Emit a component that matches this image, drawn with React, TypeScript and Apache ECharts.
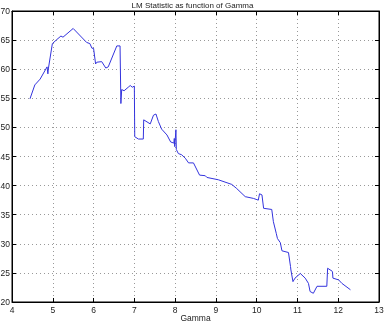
import React, { useEffect, useRef } from "react";
import * as echarts from "echarts";

const gamma = [4.44, 4.56, 4.69, 4.86, 4.88, 4.89, 4.99, 5.10, 5.20, 5.25, 5.50, 5.83, 5.91, 5.96, 6.0, 6.05, 6.08, 6.20, 6.30, 6.36, 6.57, 6.65, 6.67, 6.69, 6.75, 6.85, 6.90, 6.95, 7.0, 7.01, 7.10, 7.22, 7.23, 7.39, 7.47, 7.53, 7.59, 7.67, 7.80, 7.89, 7.97, 7.98, 7.99, 8.02, 8.03, 8.08, 8.16, 8.25, 8.33, 8.45, 8.60, 8.74, 8.78, 9.06, 9.39, 9.51, 9.72, 9.92, 10.04, 10.07, 10.13, 10.17, 10.37, 10.41, 10.48, 10.51, 10.58, 10.62, 10.78, 10.83, 10.84, 10.89, 10.94, 11.07, 11.19, 11.27, 11.31, 11.39, 11.48, 11.72, 11.74, 11.85, 11.86, 11.87, 12.01, 12.09, 12.30];
const lm = [54.9, 57.3, 58.3, 60.4, 59.2, 60.0, 64.4, 65.1, 65.7, 65.5, 67.0, 64.6, 64.4, 63.6, 63.6, 60.9, 61.2, 61.3, 60.2, 60.4, 64.0, 64.0, 54.1, 56.5, 56.3, 56.9, 57.2, 56.9, 57.1, 48.4, 48.0, 48.0, 51.3, 50.6, 52.1, 52.3, 51.0, 49.7, 48.7, 47.5, 47.3, 48.1, 46.7, 49.6, 46.2, 45.5, 45.3, 44.7, 43.9, 43.9, 41.8, 41.7, 41.4, 41.0, 40.2, 39.5, 38.1, 37.8, 37.5, 38.6, 38.4, 36.1, 35.9, 33.8, 31.8, 30.9, 30.2, 28.8, 28.5, 26.1, 25.5, 23.5, 24.1, 24.9, 24.1, 23.2, 21.8, 21.5, 22.7, 22.7, 25.8, 25.3, 25.2, 24.1, 23.8, 23.2, 22.1];

const title = "LM Statistic as function of Gamma";
const xName = "Gamma";

export default function App() {
  const ref = useRef<HTMLDivElement>(null);
  useEffect(() => {
    const chart = echarts.init(ref.current!, null, { renderer: "svg" });
    const font = "Liberation Sans, Arial, sans-serif";
    const gridLine = { show: true, lineStyle: { color: "#999", type: [1, 3], width: 1 } };
    chart.setOption({
      animation: false,
      textStyle: { fontFamily: font },
      title: {
        text: title,
        left: "center",
        top: -4,
        textStyle: { fontSize: 8, fontWeight: "normal", color: "#222", fontFamily: font },
      },
      grid: {
        left: 12, right: 6, top: 11, bottom: 21,
        containLabel: false,
        outerBoundsMode: "none",
        show: true, borderColor: "#000", borderWidth: 1,
      },
      xAxis: [
        {
          type: "value",
          min: 4,
          max: 13,
          interval: 1,
          name: xName,
          nameLocation: "middle",
          nameGap: 11,
          nameMoveOverlap: false,
          nameTextStyle: { fontSize: 8.5, color: "#222", fontFamily: font, verticalAlign: "top" },
          axisLine: { show: true, lineStyle: { color: "#000" } },
          axisTick: { show: true, inside: true, length: 4, lineStyle: { color: "#000" } },
          axisLabel: { fontSize: 8.5, color: "#222", margin: 3, fontFamily: font },
          splitLine: gridLine,
        },
        {
          type: "value",
          position: "top",
          min: 4,
          max: 13,
          interval: 1,
          axisLine: { show: true, lineStyle: { color: "#000" } },
          axisTick: { show: true, inside: true, length: 4, lineStyle: { color: "#000" } },
          axisLabel: { show: false },
          splitLine: { show: false },
        },
      ],
      yAxis: [
        {
          type: "value",
          min: 20,
          max: 70,
          interval: 5,
          axisLine: { show: true, lineStyle: { color: "#000" } },
          axisTick: { show: true, inside: true, length: 4, lineStyle: { color: "#000" } },
          axisLabel: { fontSize: 8.5, color: "#222", margin: 2, fontFamily: font },
          splitLine: gridLine,
        },
        {
          type: "value",
          position: "right",
          min: 20,
          max: 70,
          interval: 5,
          axisLine: { show: true, lineStyle: { color: "#000" } },
          axisTick: { show: true, inside: true, length: 4, lineStyle: { color: "#000" } },
          axisLabel: { show: false },
          splitLine: { show: false },
        },
      ],
      series: [
        {
          type: "line",
          data: gamma.map((g, i) => [g, lm[i]]),
          showSymbol: false,
          symbol: "none",
          lineStyle: { color: "#3333dd", width: 1 },
        },
      ],
    });
    return () => chart.dispose();
  }, []);
  return <div ref={ref} style={{ position: "fixed", left: 0, top: 0, width: 385, height: 323 }} />;
}
